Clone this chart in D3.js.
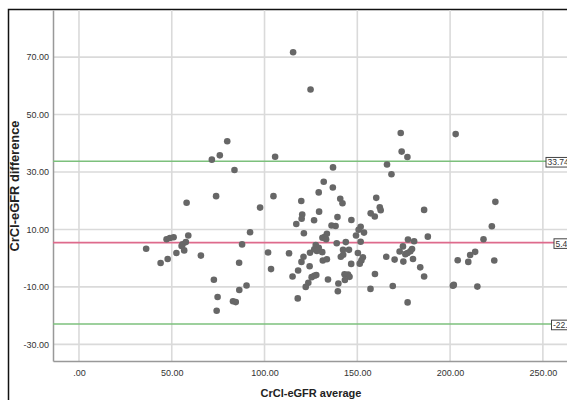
<!DOCTYPE html>
<html>
<head>
<meta charset="utf-8">
<script src="https://cdnjs.cloudflare.com/ajax/libs/d3/7.8.5/d3.min.js"></script>
<style>
    body { margin: 0; background: #fff; }
    svg { display: block; font-family: "Liberation Sans", Arial, sans-serif; }
    .tick-label { font-size: 9px; fill: #333; }
    .ref-label { font-size: 8.5px; fill: #333; }
    .axis-title { font-size: 11px; font-weight: bold; fill: #222; }
</style>
</head>
<body>
<svg class="chart"></svg>
<script>
// CrCl-eGFR average (x) and difference (y)
let avgValues = [
    115.4, 124.8, 79.9, 75.9, 71.6, 83.8, 105.7, 136.9, 131.9, 136.8,
    129.2, 140.8, 142.0, 73.9, 104.8, 119.8, 160.2, 58.0, 173.4, 173.9,
    177.0, 166.0, 168.4, 203.0, 97.6, 58.9, 47.2, 49.0, 51.0, 57.6,
    55.8, 55.3, 36.2, 56.7, 52.5, 65.7, 47.8, 44.0, 86.3, 72.7,
    86.4, 74.7, 83.0, 84.5, 74.2, 92.2, 87.9, 90.3, 101.9, 103.5,
    113.2, 115.1, 118.1, 117.9, 120.3, 120.0, 117.1, 121.2, 121.0, 119.9,
    124.5, 124.3, 125.4, 126.8, 127.9, 123.6, 122.2, 126.7, 129.4, 139.3,
    136.1, 138.3, 146.8, 162.1, 162.6, 157.2, 159.4, 151.8, 150.7, 153.6,
    149.3, 151.8, 133.6, 132.5, 131.2, 133.2, 143.8, 138.9, 127.6, 129.2,
    126.8, 128.2, 131.1, 142.3, 145.5, 150.3, 141.1, 142.4, 165.6, 153.0,
    152.2, 151.3, 131.4, 133.6, 146.7, 134.2, 143.1, 145.0, 145.8, 143.3,
    139.8, 139.5, 159.5, 157.1, 186.0, 224.4, 222.5, 188.0, 177.3, 180.6,
    218.0, 174.6, 179.5, 178.6, 172.8, 177.1, 175.9, 170.1, 174.8, 180.0,
    213.5, 210.8, 209.8, 204.1, 223.8, 183.9, 186.0, 169.1, 201.5, 202.0,
    214.7, 177.1
];
let diffValues = [
    71.7, 58.7, 40.7, 35.8, 34.3, 30.7, 35.3, 31.6, 26.6, 24.6,
    22.9, 20.7, 19.1, 21.6, 21.6, 19.9, 21.0, 19.3, 43.6, 37.1,
    35.2, 32.6, 29.2, 43.2, 17.6, 7.9, 6.6, 7.0, 7.3, 5.6,
    4.8, 4.2, 3.3, 2.7, 1.8, 0.9, -0.3, -1.7, -1.6, -7.5,
    -11.1, -13.5, -15.0, -15.3, -18.3, 9.0, 4.8, -9.5, 2.0, -3.8,
    1.7, -6.4, -4.3, -14.0, 15.2, 13.7, 11.9, 8.7, 0.5, -1.3,
    1.9, -2.8, -6.6, -6.1, -5.9, -8.6, -10.0, 13.2, 16.2, 14.3,
    11.4, 11.2, 13.3, 17.7, 16.7, 15.6, 14.5, 10.9, 9.9, 8.9,
    7.9, 5.7, 8.5, 7.4, 7.1, 6.6, 5.6, 5.2, 4.6, 3.6,
    3.1, 2.5, 2.1, 2.9, 2.9, 1.8, 0.5, 1.2, 0.5, 0.3,
    -0.8, -1.9, -0.8, -0.4, -2.0, -7.4, -5.6, -5.7, -6.5, -7.6,
    -8.8, -11.5, -5.5, -10.7, 16.8, 19.6, 11.1, 7.5, 6.5, 5.9,
    6.6, 4.1, 3.2, 2.4, 2.3, 1.8, 1.4, -0.5, -1.2, -0.3,
    2.2, 1.1, -1.3, -0.7, -0.8, -3.2, -6.4, -9.7, -9.6, -9.3,
    -9.9, -15.4
];
let xTicks = [0, 50, 100, 150, 200, 250];
let xTickLabels = [".00", "50.00", "100.00", "150.00", "200.00", "250.00"];
let yTicks = [-30, -10, 10, 30, 50, 70];
let yTickLabels = ["-30.00", "-10.00", "10.00", "30.00", "50.00", "70.00"];
// upper limit, mean difference, lower limit
let refValues = [33.742, 5.42, -22.902];
let refLabels = ["33.742", "5.420", "-22.902"];
let refColors = ["#7cc07c", "#de6a8c", "#7cc07c"];

let width = 567, height = 400;
let plot = {left: 53, top: 10, right: 567, bottom: 361};

let svg = d3.select(".chart")
    .attr("width", width)
    .attr("height", height);

let x = d3.scaleLinear()
    .domain([-14, 263])
    .range([plot.left, plot.right]);

let y = d3.scaleLinear()
    .domain([-35.8, 86.4])
    .range([plot.bottom, plot.top]);

// outer frame
svg.append("rect")
    .attr("x", 8.5)
    .attr("y", 9.5)
    .attr("width", 700)
    .attr("height", 500)
    .attr("fill", "none")
    .attr("stroke", "#111")
    .attr("stroke-width", 1.5);

// grid
svg.append("g")
    .selectAll("line")
    .data(yTicks)
    .enter().append("line")
    .attr("x1", plot.left)
    .attr("x2", plot.right)
    .attr("y1", d => y(d))
    .attr("y2", d => y(d))
    .attr("stroke", "#dadada")
    .attr("stroke-width", 1.6);

svg.append("g")
    .selectAll("line")
    .data(xTicks)
    .enter().append("line")
    .attr("x1", d => x(d))
    .attr("x2", d => x(d))
    .attr("y1", plot.top)
    .attr("y2", plot.bottom)
    .attr("stroke", "#dadada")
    .attr("stroke-width", 1.6);

// axes
let xAxis = svg.append("g")
    .attr("transform", "translate(0," + plot.bottom + ")")
    .call(d3.axisBottom(x).tickValues(xTicks).tickSize(0).tickPadding(9)
        .tickFormat((d, i) => xTickLabels[i]));
xAxis.select(".domain").attr("stroke", "#999").attr("stroke-width", 1.5);
xAxis.selectAll("text").attr("class", "tick-label").attr("font-family", null).attr("font-size", null);

let yAxis = svg.append("g")
    .attr("transform", "translate(" + plot.left + ",0)")
    .call(d3.axisLeft(y).tickValues(yTicks).tickSize(0).tickPadding(4)
        .tickFormat((d, i) => yTickLabels[i]));
yAxis.select(".domain").attr("stroke", "#999").attr("stroke-width", 1.5);
yAxis.selectAll("text").attr("class", "tick-label").attr("font-family", null).attr("font-size", null);

// reference lines
svg.append("g")
    .selectAll("line")
    .data(refValues)
    .enter().append("line")
    .attr("x1", plot.left)
    .attr("x2", plot.right)
    .attr("y1", d => y(d))
    .attr("y2", d => y(d))
    .attr("stroke", (d, i) => refColors[i])
    .attr("stroke-width", 1.6);

// points
let points = d3.zip(avgValues, diffValues);
svg.append("g")
    .selectAll("circle")
    .data(points)
    .enter().append("circle")
    .attr("cx", d => x(d[0]))
    .attr("cy", d => y(d[1]))
    .attr("r", 3.3)
    .attr("fill", "#676767");

// labels on the reference lines (cut by the right edge, as in the original)
let labelX = [546, 554, 551.5];
let refLabel = svg.append("g")
    .selectAll("g")
    .data(refValues)
    .enter().append("g")
    .attr("transform", function (d, i) {
        return "translate(" + labelX[i] + "," + (y(d) + 1) + ")";
    });
refLabel.append("rect")
    .attr("x", 0)
    .attr("y", -4.8)
    .attr("width", 36)
    .attr("height", 9.6)
    .attr("fill", "#fff")
    .attr("stroke", "#444")
    .attr("stroke-width", 1);
refLabel.append("text")
    .attr("class", "ref-label")
    .attr("x", 1.5)
    .attr("y", 3)
    .text((d, i) => refLabels[i]);

// axis titles
svg.append("text")
    .attr("class", "axis-title")
    .attr("text-anchor", "middle")
    .attr("x", 311)
    .attr("y", 397)
    .text("CrCl-eGFR average");

svg.append("text")
    .attr("class", "axis-title")
    .attr("text-anchor", "middle")
    .attr("transform", "translate(18.5,186) rotate(-90)")
    .attr("textLength", 131)
    .attr("lengthAdjust", "spacingAndGlyphs")
    .style("font-size", "12px")
    .text("CrCl-eGFR difference");
</script>
</body>
</html>
